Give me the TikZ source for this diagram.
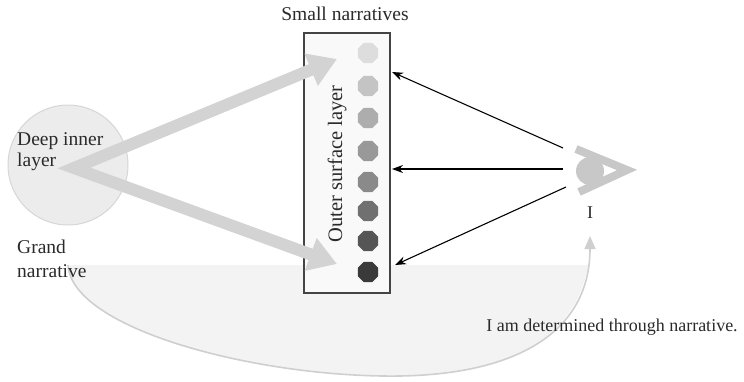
\documentclass[tikz,border=0pt]{standalone}
\usepackage{fontspec}
\setmainfont{Liberation Serif}
\usetikzlibrary{arrows.meta,shapes.geometric}
\definecolor{bigarrow}{HTML}{D3D3D3}
\definecolor{circfill}{HTML}{ECECEC}
\definecolor{circdraw}{HTML}{D6D6D6}
\definecolor{grandfill}{HTML}{F3F3F3}
\definecolor{granddraw}{HTML}{CFCFCF}
\definecolor{boxfill}{HTML}{F9F9F9}
\definecolor{boxdraw}{HTML}{444444}
\definecolor{eyecol}{HTML}{C8C8C8}
\definecolor{txt}{HTML}{2A2A2A}
\definecolor{d1}{HTML}{DDDDDD}
\definecolor{d2}{HTML}{C4C4C4}
\definecolor{d3}{HTML}{ADADAD}
\definecolor{d4}{HTML}{999999}
\definecolor{d5}{HTML}{8A8A8A}
\definecolor{d6}{HTML}{707070}
\definecolor{d7}{HTML}{555555}
\definecolor{d8}{HTML}{3A3A3A}
\tikzset{
  lbl/.style={text=txt, inner sep=0pt, align=left},
  dot/.style={regular polygon, regular polygon sides=8, minimum size=22pt, inner sep=0pt, draw=none},
  look/.style={draw=black, line width=1.1pt, -{Stealth[length=11pt,width=8pt]}},
}
\begin{document}
\begin{tikzpicture}[x=1pt,y=-1pt]
\useasboundingbox (0,0) rectangle (744,381);
% grand narrative region
\begin{scope}
\clip (0,265) rectangle (744,381);
\fill[grandfill] (68,265) .. controls (72,330) and (260,378) .. (400,376)
  .. controls (520,374) and (590,330) .. (590,240) -- cycle;
\end{scope}
\coordinate (gstart) at (68,265);
\coordinate (gend) at (590,236);
\draw[granddraw, line width=1.6pt, -{Triangle[length=13pt,width=11pt]}]
  (gstart) .. controls (72,330) and (260,378) .. (400,376)
  .. controls (520,374) and (590,330) .. (gend);
% deep inner circle
\node[circle, fill=circfill, draw=circdraw, line width=1pt, minimum size=120pt, inner sep=0pt] (deep) at (68,165) {};
\node[lbl, font=\fontsize{19.5}{21}\selectfont, anchor=west] (deeptxt) at (17,152) {Deep inner\\layer};
\node[lbl, font=\fontsize{19.5}{24}\selectfont, anchor=west] (grand) at (17,259) {Grand\\narrative};
% box
\node[draw=boxdraw, fill=boxfill, line width=1.2pt, minimum width=86pt, minimum height=260pt, inner sep=0pt] (box) at (347,163) {};
\node[lbl, font=\fontsize{20.5}{22}\selectfont, rotate=90] (outer) at (337,164) {Outer surface layer};
\node[lbl, font=\fontsize{19.5}{22}\selectfont] (small) at (345,14) {Small narratives};
% dots
\node[dot, fill=d1] (n1) at (368,53) {};
\node[dot, fill=d2] (n2) at (368,86) {};
\node[dot, fill=d3] (n3) at (368,118) {};
\node[dot, fill=d4] (n4) at (368,151) {};
\node[dot, fill=d5] (n5) at (368,182) {};
\node[dot, fill=d6] (n6) at (368,211) {};
\node[dot, fill=d7] (n7) at (368,241) {};
\node[dot, fill=d8] (n8) at (368,272) {};
% big gray arrows
\coordinate (apex) at (74,168);
\coordinate (top) at (337,59);
\coordinate (bot) at (337,264);
\draw[bigarrow, line width=12pt, line join=miter, miter limit=10,
  {Triangle[length=28pt,width=33pt]}-{Triangle[length=28pt,width=33pt]}]
  (top) -- (apex) -- (bot);
% eye
\node[circle, fill=eyecol, minimum size=28pt, inner sep=0pt] (eye) at (590,171) {};
\draw[eyecol, line width=8pt, line join=miter, miter limit=10] (576,149) -- (627,170) -- (579,192);
\node[lbl, font=\fontsize{18}{20}\selectfont] (I) at (590,213) {I};
% looking arrows
\coordinate (e1) at (563,148);
\coordinate (e2) at (563,169);
\coordinate (e3) at (566,187);
\coordinate (t1) at (392,72);
\coordinate (t2) at (392,169);
\coordinate (t3) at (395,265);
\draw[look] (e1) -- (t1);
\draw[look] (e2) -- (t2);
\draw[look] (e3) -- (t3);
\node[lbl, font=\fontsize{18}{20}\selectfont] (det) at (612,327) {I am determined through narrative.};
\end{tikzpicture}
\end{document}
